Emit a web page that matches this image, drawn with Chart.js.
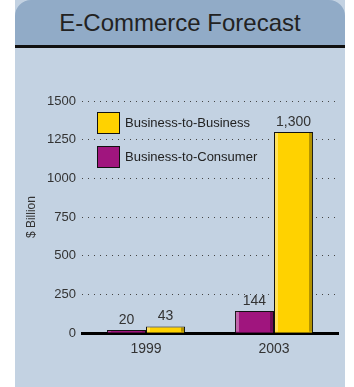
<!doctype html>
<html>
<head>
	<title>E-Commerce Forecast</title>
	<script src="https://cdn.jsdelivr.net/npm/chart.js@4"></script>
	<style>
	body { margin: 0; background: #fff; width: 354px; height: 387px; overflow: hidden; font-family: 'Liberation Sans', Arial, sans-serif; }
	.panel { position: absolute; left: 15px; top: 0; width: 330px; height: 387px; background: #c3d2e2; }
	.header { height: 45px; background: #91abc7; border-radius: 16px 16px 0 0; border-bottom: 3px solid #111;
		text-align: center; font-size: 24px; line-height: 46px; color: #222; }
	#chart { position: absolute; left: 0; top: 48px; }
	</style>
</head>
<body>
	<div class="panel"><div class="header">E-Commerce Forecast</div></div>
	<canvas id="chart" width="354" height="339"></canvas>
	<script>
		var years = ['1999', '2003'];
		var b2c = [20, 144];
		var b2b = [43, 1300];
		var yTicks = [0, 250, 500, 750, 1000, 1250, 1500];

		var purple = '#a0157e';
		var yellow = '#ffd200';

		var valueLabels = {
			id: 'valueLabels',
			afterDatasetsDraw: function(chart) {
				var ctx = chart.ctx;
				ctx.save();
				ctx.font = '14px "Liberation Sans", Arial, sans-serif';
				ctx.textAlign = 'center';
				ctx.textBaseline = 'bottom';
				chart.data.datasets.forEach(function(ds, i) {
					chart.getDatasetMeta(i).data.forEach(function(bar, j) {
						// shading on the bar sides
						var l = bar.x - bar.width / 2, r = bar.x + bar.width / 2;
						ctx.fillStyle = 'rgba(255,255,255,0.35)';
						ctx.fillRect(l + 1, bar.y + 1, 3, bar.base - bar.y - 2);
						ctx.fillStyle = 'rgba(0,0,0,0.3)';
						ctx.fillRect(r - 4, bar.y + 1, 3, bar.base - bar.y - 2);
						ctx.fillStyle = '#333';
						ctx.fillText(ds.data[j].toLocaleString('en-US'), bar.x, bar.y - 3);
					});
				});
				ctx.restore();
			}
		};

		var innerLegend = {
			id: 'innerLegend',
			afterDraw: function(chart) {
				var ctx = chart.ctx;
				var area = chart.chartArea;
				var items = chart.data.datasets.slice().reverse();
				ctx.save();
				ctx.font = '13px "Liberation Sans", Arial, sans-serif';
				ctx.textBaseline = 'middle';
				items.forEach(function(ds, i) {
					var x = area.left + 15, y = area.top + 11 + i * 34;
					ctx.fillStyle = ds.backgroundColor;
					ctx.fillRect(x, y, 23, 22);
					ctx.strokeStyle = '#111';
					ctx.lineWidth = 1;
					ctx.strokeRect(x + 0.5, y + 0.5, 22, 21);
					ctx.fillStyle = '#222';
					ctx.fillText(ds.label, x + 28, y + 11);
				});
				ctx.restore();
			}
		};

		window.onload = function() {
			var ctx = document.getElementById('chart').getContext('2d');
			new Chart(ctx, {
				type: 'bar',
				data: {
					labels: years,
					datasets: [{
						label: 'Business-to-Consumer',
						data: b2c,
						backgroundColor: purple,
						borderColor: '#111',
						borderWidth: 1
					}, {
						label: 'Business-to-Business',
						data: b2b,
						backgroundColor: yellow,
						borderColor: '#111',
						borderWidth: 1
					}]
				},
				options: {
					responsive: false,
					animation: false,
					events: [],
					layout: { padding: { left: 22, right: 16, top: 53, bottom: 29 } },
					categoryPercentage: 0.61,
					barPercentage: 1,
					plugins: {
						legend: { display: false },
						tooltip: { enabled: false }
					},
					scales: {
						x: {
							grid: { display: false },
							border: { display: true, color: '#000', width: 3 },
							ticks: { color: '#333', padding: 0, font: { size: 14, family: '"Liberation Sans", Arial, sans-serif' } }
						},
						y: {
							min: 0,
							max: 1500,
							afterBuildTicks: function(scale) {
								scale.ticks = yTicks.map(function(v) { return { value: v }; });
							},
							afterFit: function(scale) { scale.width = 60; },
							grid: { color: '#444', lineWidth: 1, drawTicks: false },
							border: { display: false, dash: [1, 5] },
							ticks: {
								color: '#333', padding: 6,
								font: { size: 13, family: '"Liberation Sans", Arial, sans-serif' },
								callback: function(v) { return String(v); }
							},
							title: { display: true, text: '$ Billion', color: '#333', padding: 2, font: { size: 12, family: '"Liberation Sans", Arial, sans-serif' } }
						}
					}
				},
				plugins: [valueLabels, innerLegend]
			});
		};
	</script>
</body>
</html>
